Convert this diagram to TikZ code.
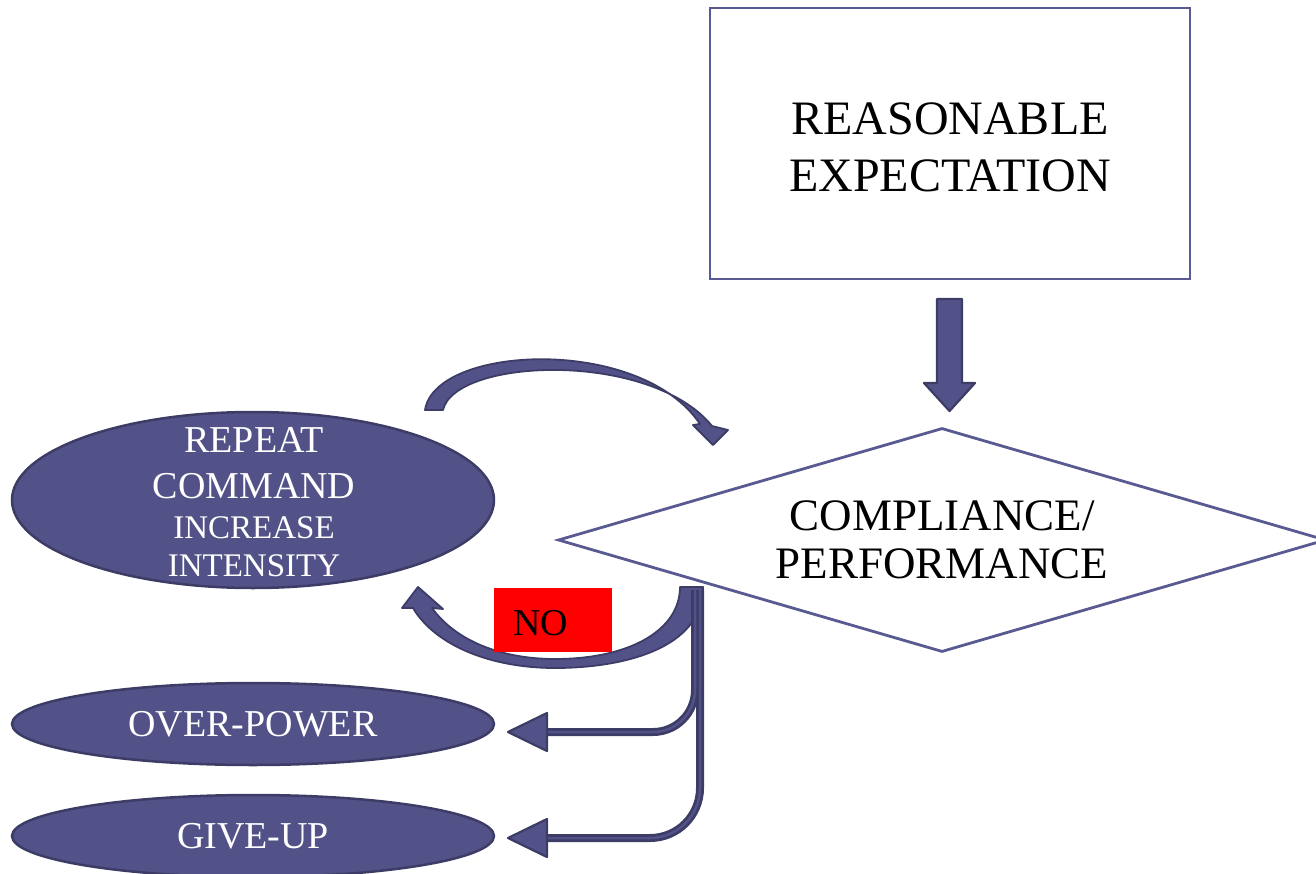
\documentclass[tikz,border=0pt]{standalone}
\usepackage{fontspec}
\setmainfont{Liberation Serif}
\usetikzlibrary{shapes.geometric}
\definecolor{fillc}{HTML}{525288}
\definecolor{edgec}{HTML}{3C3C66}
\definecolor{linec}{HTML}{5A5A92}
\tikzset{
  ell/.style={ellipse, draw=edgec, fill=fillc, line width=2.5pt, inner sep=0pt},
  etext/.style={text=white, align=center, inner sep=0pt},
  blockarrow/.style={draw=edgec, fill=fillc, line width=2.2pt, line join=round},
  pipeout/.style={draw=edgec, line width=8pt},
  pipein/.style={draw=fillc, line width=2.5pt},
  outline/.style={draw=linec, line width=2.8pt, fill=white},
}
\begin{document}
\begin{tikzpicture}[x=1pt,y=-1pt]
\useasboundingbox (0,0) rectangle (1316,874);

% top box
\node[outline, minimum width=480pt, minimum height=271pt] (expect) at (950,143.5) {};
\node[align=center, inner sep=0pt, font=\fontsize{48}{57}\selectfont] (expectT) at (950,147)
      {REASONABLE\\EXPECTATION};

% diamond
\node[outline, diamond, minimum width=768pt, minimum height=224pt, inner sep=0pt] (comp) at (942,540) {};
\node[align=center, inner sep=0pt, font=\fontsize{45}{48}\selectfont] (compT) at (942,540)
      {COMPLIANCE/\\PERFORMANCE};

% ellipses
\node[ell, minimum width=482pt, minimum height=176pt] (rep) at (253,500) {};
\node[etext, font=\fontsize{38}{46}\selectfont] (repT) at (254,502)
  {REPEAT\\COMMAND\\[-6pt]
   {\fontsize{33}{46}\selectfont INCREASE}\\[-8pt]{\fontsize{33}{46}\selectfont INTENSITY}};
\node[ell, minimum width=482pt, minimum height=82pt] (over) at (253,724) {};
\node[etext, font=\fontsize{38}{44}\selectfont] (overT) at (over.center) {OVER-POWER};
\node[ell, minimum width=482pt, minimum height=82pt] (give) at (253,836) {};
\node[etext, font=\fontsize{38}{44}\selectfont] (giveT) at (give.center) {GIVE-UP};

% down block arrow
\coordinate (dTip) at (949.5,411);
\draw[blockarrow] (937,299) -- (962,299) -- (962,383) -- (975,383) -- (dTip)
   -- (924,383) -- (937,383) -- cycle;

% top curved arrow (repeat -> compliance)
\draw[blockarrow, line width=1.8pt]
  (425,410) .. controls (435,345) and (640,335) .. (700,424)
  -- (693,425) -- (713,445) -- (728,430) -- (712,426)
  .. controls (650,350) and (455,358) .. (443,410) -- cycle;

% bottom curved arrow (compliance -> repeat)
\draw[blockarrow, line width=1.8pt]
  (703,587) .. controls (703,650) and (620,668) .. (555,668)
  .. controls (490,668) and (435,645) .. (413,608)
  -- (402,608) -- (418,587) -- (443,609) -- (432,608)
  .. controls (455,640) and (500,659) .. (555,659)
  .. controls (630,659) and (680,630) .. (680,587) -- cycle;

% NO label
\node[fill=red, minimum width=118pt, minimum height=64pt, inner sep=0pt] (nobox) at (553,620) {};
\node[anchor=base west, inner sep=0pt, font=\fontsize{38}{44}\selectfont] (noT) at (513,635) {NO};

% branches to over-power and give-up
\coordinate (b1s) at (695,590);
\coordinate (b2s) at (700,590);
\coordinate (b1e) at (547,732);
\coordinate (b2e) at (547,838);
\foreach \s in {pipeout,pipein}{
  \draw[\s] (b1s) -- (695,690) arc[start angle=0, end angle=90, radius=42] -- (b1e);
  \draw[\s] (b2s) -- (700,788) arc[start angle=0, end angle=90, radius=50] -- (b2e);
}
\draw[blockarrow] (547,713) -- (508,732) -- (547,751) -- cycle;
\draw[blockarrow] (547,819) -- (508,838) -- (547,857) -- cycle;
\end{tikzpicture}
\end{document}
